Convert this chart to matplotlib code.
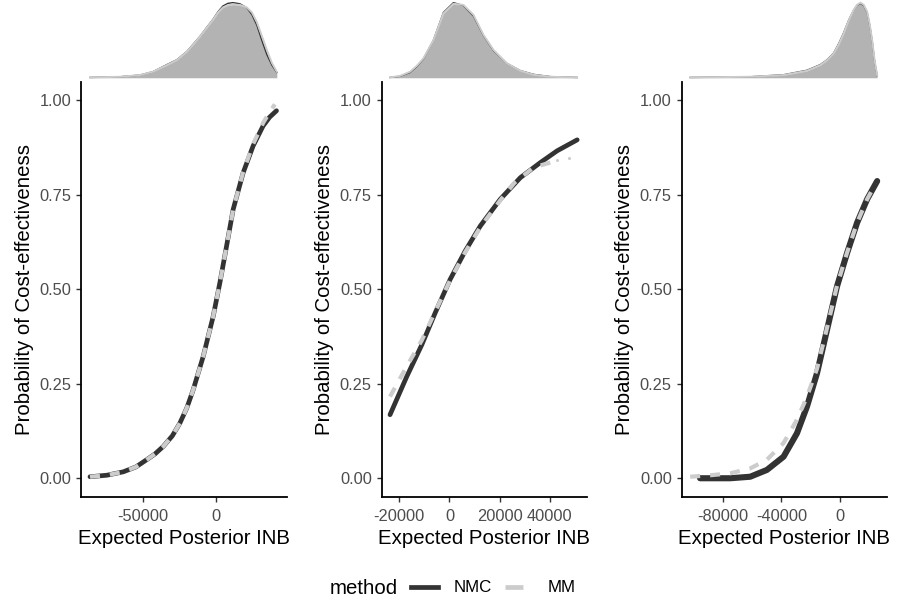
import matplotlib
matplotlib.use("Agg")
import matplotlib.pyplot as plt
from matplotlib.lines import Line2D

plt.rcParams['font.family'] = ['Liberation Sans', 'DejaVu Sans']

# ---- curves: expected posterior INB vs probability of cost-effectiveness ----
nmc1_x = [-86660, -75000, -63760, -55000, -47660, -42000, -36250, -30000, -24760, -20000,
          -15610, -8730, -1860, 2750, 7360, 11900, 18780, 25650, 32530, 37000, 41740]
nmc1_y = [0.004, 0.008, 0.017, 0.030, 0.049, 0.064, 0.084, 0.112, 0.146, 0.186,
          0.234, 0.322, 0.428, 0.517, 0.614, 0.711, 0.808, 0.879, 0.932, 0.955, 0.972]
mm1_x = [-86660, -75000, -63760, -55000, -47660, -42000, -36250, -30000, -24760, -20000,
         -15610, -8730, -1860, 2750, 7360, 11900, 18780, 25650, 32530, 37000, 40580]
mm1_y = [0.004, 0.008, 0.017, 0.030, 0.049, 0.064, 0.084, 0.112, 0.146, 0.186,
         0.234, 0.322, 0.428, 0.517, 0.614, 0.711, 0.810, 0.884, 0.940, 0.968, 0.989]

nmc2_x = [-23720, -17040, -11040, -5720, 280, 6280, 12280, 20280, 28280, 36280, 42960, 50960]
nmc2_y = [0.168, 0.269, 0.353, 0.437, 0.526, 0.601, 0.667, 0.738, 0.795, 0.835, 0.866, 0.895]
mm2_x = [-23720, -17040, -11040, -5720, 280, 6280, 12280, 20280, 26000, 33600, 40280]
mm2_y = [0.216, 0.296, 0.365, 0.440, 0.524, 0.598, 0.664, 0.735, 0.782, 0.822, 0.835]
mm2_tail_x = [42960, 47600]
mm2_tail_y = [0.841, 0.848]

nmc3_x = [-95240, -74830, -61220, -49880, -38570, -29460, -22650, -15850, -9050, -2250,
          4560, 11360, 18160, 24960]
nmc3_y = [0.0, 0.0, 0.004, 0.022, 0.057, 0.119, 0.190, 0.278, 0.393, 0.508,
          0.596, 0.676, 0.738, 0.786]
mm3_x = [-101940, -88000, -74830, -61220, -49880, -38570, -29460, -22650, -15850, -9050,
         -2250, 4560, 11360, 18160, 24000]
mm3_y = [0.004, 0.008, 0.013, 0.026, 0.049, 0.093, 0.155, 0.216, 0.290, 0.398,
         0.510, 0.597, 0.676, 0.738, 0.780]

# ---- marginal densities (relative height) ----
dens1_x = [-86660, -66020, -52270, -43330, -33700, -26820, -19950, -15500, -11000, -6500,
           -2060, 1500, 4810, 8200, 11690, 16500, 21320, 24800, 28200, 31600, 35080, 38500, 41950]
dens1_mm = [0.004, 0.013, 0.036, 0.08, 0.169, 0.236, 0.347, 0.445, 0.547, 0.66,
            0.769, 0.87, 0.935, 0.965, 0.975, 0.97, 0.935, 0.87, 0.74, 0.56, 0.37, 0.20, 0.08]
dens1_nmc = [0.004, 0.013, 0.036, 0.08, 0.175, 0.24, 0.35, 0.45, 0.55, 0.665,
             0.775, 0.88, 0.955, 0.99, 1.0, 0.985, 0.93, 0.84, 0.70, 0.50, 0.31, 0.17, 0.07]

dens2_x = [-23720, -19700, -15720, -13000, -10400, -6400, -2400, 1600, 5600, 9600, 13600,
           17600, 22960, 28280, 33600, 40280, 50960]
dens2_mm = [0.004, 0.025, 0.08, 0.16, 0.258, 0.50, 0.858, 0.985, 0.969, 0.836, 0.569,
            0.369, 0.191, 0.093, 0.04, 0.013, 0.004]
dens2_nmc = [0.004, 0.02, 0.07, 0.15, 0.25, 0.50, 0.87, 1.0, 0.96, 0.82, 0.56,
             0.36, 0.19, 0.095, 0.045, 0.015, 0.004]

dens3_x = [-101950, -61170, -38540, -22630, -13590, -9000, -4550, -1000, 2240, 5600, 9040,
           11300, 13590, 15900, 18150, 20000, 21550, 23300, 24940]
dens3_mm = [0.004, 0.013, 0.036, 0.093, 0.169, 0.235, 0.324, 0.45, 0.591, 0.76, 0.902,
            0.97, 1.0, 0.97, 0.88, 0.70, 0.50, 0.22, 0.036]
dens3_nmc = [0.004, 0.013, 0.04, 0.10, 0.175, 0.24, 0.33, 0.46, 0.60, 0.765, 0.90,
             0.965, 0.99, 0.96, 0.87, 0.69, 0.49, 0.21, 0.03]

y_ticks = [0.0, 0.25, 0.5, 0.75, 1.0]
y_ticklabels = ["0.00", "0.25", "0.50", "0.75", "1.00"]
x_ticks = [[-50000, 0], [-20000, 0, 20000, 40000], [-80000, -40000, 0]]
x_lims = [(-92850, 48620), (-27040, 54960), (-107690, 31770)]

panels = [
    (nmc1_x, nmc1_y, mm1_x, mm1_y, None, None, dens1_x, dens1_nmc, dens1_mm),
    (nmc2_x, nmc2_y, mm2_x, mm2_y, mm2_tail_x, mm2_tail_y, dens2_x, dens2_nmc, dens2_mm),
    (nmc3_x, nmc3_y, mm3_x, mm3_y, None, None, dens3_x, dens3_nmc, dens3_mm),
]
nmc_widths = [3.4, 3.4, 4.4]

DARK = "#333333"
LIGHT = "#cccccc"
FILL = "#b3b3b3"

fig = plt.figure(figsize=(9, 6.16), dpi=100)
lefts = [81 / 900, 381.7 / 900, 681.7 / 900]
width = 205.5 / 900
bottom = 1 - 496.7 / 616
height = 415 / 616

for i, (nx, ny, mx, my, tx, ty, dx, dn, dm) in enumerate(panels):
    ax = fig.add_axes([lefts[i], bottom, width, height])
    ax.plot(nx, ny, color=DARK, lw=nmc_widths[i], solid_capstyle='round',
            solid_joinstyle='round', zorder=2)
    ax.plot(mx, my, color=LIGHT, lw=3.0, dashes=(2.4, 2.4), zorder=3)
    if tx is not None:
        ax.scatter(tx, ty, s=5, color=LIGHT, zorder=3, linewidths=0)
    ax.set_xlim(*x_lims[i])
    ax.set_ylim(-0.0488, 1.0488)
    ax.set_xticks(x_ticks[i])
    ax.set_xticklabels([str(v) for v in x_ticks[i]])
    ax.set_yticks(y_ticks)
    ax.set_yticklabels(y_ticklabels)
    for s in ['top', 'right']:
        ax.spines[s].set_visible(False)
    for s in ['left', 'bottom']:
        ax.spines[s].set_linewidth(1.3)
        ax.spines[s].set_color('black')
    ax.tick_params(axis='both', labelsize=11.8, labelcolor='#4d4d4d', length=3.6,
                   width=1.0, color='#333333')
    ax.tick_params(axis='x', pad=5)
    ax.tick_params(axis='y', pad=3.5)
    ax.set_xlabel("Expected Posterior INB", fontsize=14.7, labelpad=3.5)
    ax.set_ylabel("Probability of Cost-effectiveness", fontsize=14.7, labelpad=4)

    # marginal density on top
    dax = fig.add_axes([lefts[i], 1 - 78.5 / 616, width, 78.5 / 616])
    dax.fill_between(dx, dm, 0, color=FILL, lw=0)
    dax.plot(dx, dn, color=DARK, lw=1.0)
    dax.plot(dx, dm, color=LIGHT, lw=1.4)
    dax.set_xlim(*x_lims[i])
    dax.set_ylim(-0.01, 1.035)
    dax.axis('off')

# legend
fig.text(330 / 900, 1 - 588 / 616, "method", fontsize=14.7, va='center', ha='left')
handles = [Line2D([], [], color=DARK, lw=3.4),
           Line2D([], [], color=LIGHT, lw=3.4, dashes=(3.8, 5))]
fig.legend(handles, ["NMC", "MM"], ncol=2, loc='center left',
           bbox_to_anchor=(411 / 900, 1 - 588 / 616), frameon=False, fontsize=12.2,
           handlelength=1.6, handletextpad=0.9, columnspacing=0.8,
           borderpad=0, borderaxespad=0)

fig.savefig("out.png", dpi=100)
